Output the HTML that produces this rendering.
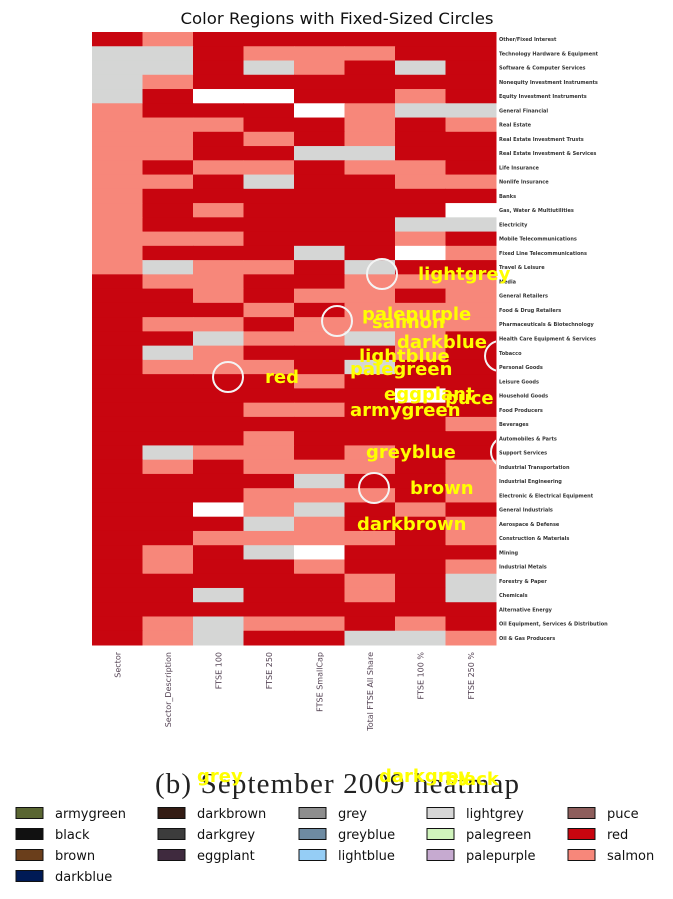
<!DOCTYPE html>
<html><head><meta charset="utf-8">
<style>
html,body{margin:0;padding:0;background:#fff;}
svg{display:block;}
</style></head>
<body>
<svg id="chart" width="673" height="899" viewBox="0 0 673 899" xmlns="http://www.w3.org/2000/svg">
<defs><clipPath id="hmclip"><rect x="92" y="32" width="404" height="613"/></clipPath></defs>
<text x="337" y="24" text-anchor="middle" font-family="DejaVu Sans, sans-serif" font-size="16" textLength="313" lengthAdjust="spacingAndGlyphs" fill="#111">Color Regions with Fixed-Sized Circles</text>
<g id="cells"></g>
<g id="rowlabels"></g>
<g id="collabels"></g>
<g id="circles" clip-path="url(#hmclip)"></g>
<text x="337" y="793" text-anchor="middle" font-family="Liberation Serif, serif" font-size="29" textLength="364" fill="#222">(b) September 2009 heatmap</text>
<g id="annots"></g>
<g id="legend"></g>
</svg>
<script>
const colNames = ["Sector","Sector_Description","FTSE 100","FTSE 250","FTSE SmallCap","Total FTSE All Share","FTSE 100 %","FTSE 250 %"];
const rowNames = ["Other/Fixed Interest","Technology Hardware & Equipment","Software & Computer Services","Nonequity Investment Instruments","Equity Investment Instruments","General Financial","Real Estate","Real Estate Investment Trusts","Real Estate Investment & Services","Life Insurance","Nonlife Insurance","Banks","Gas, Water & Multiutilities","Electricity","Mobile Telecommunications","Fixed Line Telecommunications","Travel & Leisure","Media","General Retailers","Food & Drug Retailers","Pharmaceuticals & Biotechnology","Health Care Equipment & Services","Tobacco","Personal Goods","Leisure Goods","Household Goods","Food Producers","Beverages","Automobiles & Parts","Support Services","Industrial Transportation","Industrial Engineering","Electronic & Electrical Equipment","General Industrials","Aerospace & Defense","Construction & Materials","Mining","Industrial Metals","Forestry & Paper","Chemicals","Alternative Energy","Oil Equipment, Services & Distribution","Oil & Gas Producers"];
const gridRows = [
"RSRRRRRR","GGRSSSRR","GGRGSRGR","GSRRRRRR","GRWWRRSR","SRRRWSGG","SSSRRSRS","SSRSRSRR","SSRRGGRR","SRSSRSSR",
"SSRGRRSS","SRRRRRRR","SRSRRRRW","SRRRRRGG","SSSRRRSR","SRRRGRWS","SGSSRGRR","RSSRRSSS","RRSRSSRS","RRRSRSSS",
"RSSRSSSS","RRGSSGSR","RGSRRRSR","RSSSRGRR","RRRRSRRR","RRRRRRWR","RRRSSRRR","RRRRRRRS","RRRSRRRR","RGSSRSRR",
"RSRSSSRS","RRRRGRRS","RRRSSSRS","RRWSGRSR","RRRGSRRS","RRSSSSRS","RSRGWRRR","RSRRSRRS","RRRRRSRG","RRGRRSRG",
"RRRRRRRR","RSGSSRSR","RSGRRGGS"];
const cellColors = {R:"#c8050f",S:"#f7877a",G:"#d5d6d5",W:"#ffffff"};
const circleX = [382,337,228,374,500,512,506];
const circleY = [274,321,377,488,356,372,452];
const annotText = ["lightgrey","palepurple","salmon","darkblue","lightblue","palegreen","red","eggplant","puce","armygreen","greyblue","brown","darkbrown","grey","darkgrey","black"];
const annotX = [418,362,372,397,359,350,265,384,445,350,366,410,357,197,379,445];
const annotY = [274,314,322,342,356,369,377,394,398,410,452,488,524,776,776,779];
const legendNames = ["armygreen","black","brown","darkblue","darkbrown","darkgrey","eggplant","grey","greyblue","lightblue","lightgrey","palegreen","palepurple","puce","red","salmon"];
const legendColors = ["#5a6632","#111111","#6a3e1b","#001a55","#341c14","#3c3c3c","#3f2a3e","#8e8e8e","#6e8ba2","#95cdf5","#d6d6d6","#d0f4bc","#c6aad0","#8e5e5c","#c8050f","#f7877a"];

const NS="http://www.w3.org/2000/svg";
const X0=92,Y0=32,W=404,H=613;
const nR=gridRows.length,nC=colNames.length;
const cw=W/nC,rh=H/nR;
function xPos(c){return X0+c*cw;}
function yPos(r){return Y0+r*rh;}
function mk(tag,attrs,parent){const e=document.createElementNS(NS,tag);for(const k in attrs)e.setAttribute(k,attrs[k]);parent.appendChild(e);return e;}

const cells=document.getElementById('cells');
gridRows.forEach((row,r)=>{for(let c=0;c<nC;c++){
  const el=mk('rect',{x:xPos(c),y:yPos(r),width:cw+0.5,height:rh+0.5,fill:cellColors[row[c]]},cells);
  
  
}});
const rl=document.getElementById('rowlabels');
rowNames.forEach((n,r)=>{
  const t=mk('text',{x:499,y:yPos(r)+rh/2+2,'font-family':'DejaVu Sans, sans-serif','font-size':'5','font-weight':'bold',fill:'#333'},rl);
  t.textContent=n;
  
  
});
const cl=document.getElementById('collabels');
colNames.forEach((n,c)=>{
  const cx=xPos(c)+cw/2+3, y=652;
  const t=mk('text',{x:cx,y:y,'font-family':'DejaVu Sans, sans-serif','font-size':'8',fill:'#554455','text-anchor':'end',transform:`rotate(-90 ${cx} ${y})`},cl);
  t.textContent=n;
  
  
});
const cg=document.getElementById('circles');
circleX.forEach((x,i)=>{
  const el=mk('circle',{cx:x,cy:circleY[i],r:15,fill:'none',stroke:'#f4f4f4','stroke-width':2},cg);
  
  
});
const ag=document.getElementById('annots');
annotText.forEach((s,i)=>{
  const t=mk('text',{x:annotX[i],y:annotY[i]+6,'font-family':'DejaVu Sans, sans-serif','font-size':'18','font-weight':'bold',fill:'#ffff00'},ag);
  t.textContent=s;
  
  
});
const lg=document.getElementById('legend');
const colX=[16,158,299,427,568];
const perCol=[4,3,3,3,3];
let idx=0;
perCol.forEach((n,ci)=>{for(let k=0;k<n;k++){
  const y=813+k*21;
  const sw=mk('rect',{x:colX[ci],y:y-5.5,width:27,height:11,fill:legendColors[idx],stroke:'#111','stroke-width':1},lg);
  
  
  const t=mk('text',{x:colX[ci]+39,y:y+5,'font-family':'DejaVu Sans, sans-serif','font-size':'13',fill:'#111'},lg);
  t.textContent=legendNames[idx];
  
  
  idx++;
}});
</script>
</body></html>
